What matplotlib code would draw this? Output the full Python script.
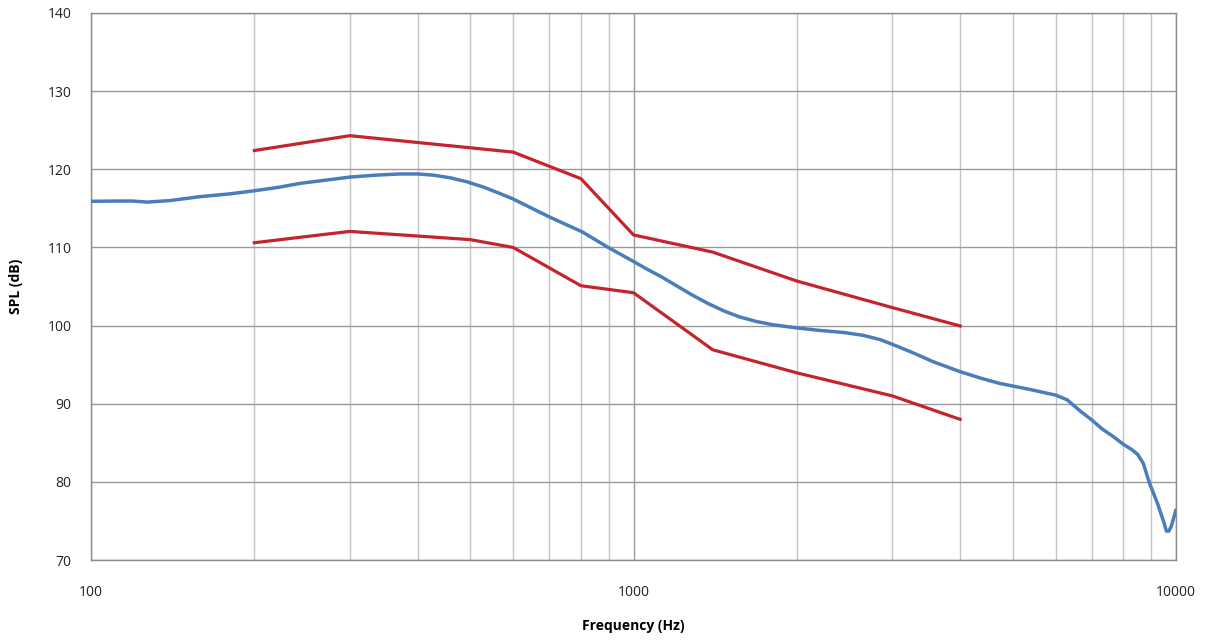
import numpy as np
import matplotlib.pyplot as plt
from matplotlib.ticker import FixedLocator, NullFormatter

plt.rcParams['font.family'] = ['Open Sans', 'DejaVu Sans']

# --- measured response (blue) ---
freq_blue = [100, 110, 119, 127, 140, 159, 180, 200, 222, 243, 270, 300, 335,
             371, 400, 428, 460, 493, 530, 567, 600, 650, 700, 750, 804, 898,
             1000, 1060, 1122, 1180, 1280, 1370, 1470, 1570, 1690, 1810, 2000,
             2190, 2450, 2650, 2850, 3000, 3280, 3560, 4000, 4350, 4730, 5400,
             6000, 6300, 6650, 7000, 7300, 7660, 8000, 8300, 8500, 8700, 8940,
             9250, 9500, 9600, 9700, 9800, 10000]
spl_blue = [115.9, 115.93, 115.94, 115.8, 116.0, 116.5, 116.85, 117.25, 117.7,
            118.2, 118.6, 119.0, 119.25, 119.4, 119.4, 119.25, 118.9, 118.4,
            117.7, 116.9, 116.2, 115.0, 113.9, 112.95, 112.0, 110.0, 108.2, 107.2,
            106.3, 105.4, 103.95, 102.85, 101.85, 101.1, 100.5, 100.1, 99.7, 99.4,
            99.1, 98.75, 98.2, 97.6, 96.5, 95.4, 94.1, 93.3, 92.6, 91.8, 91.1,
            90.5, 89.1, 87.9, 86.8, 85.8, 84.8, 84.1, 83.5, 82.4, 79.8, 77.2,
            74.8, 73.7, 73.7, 74.3, 76.4]

# --- tolerance limits (red) ---
freq_upper = [200, 300, 600, 800, 1000, 1400, 2000, 3000, 4000]
spl_upper = [122.4, 124.3, 122.2, 118.8, 111.6, 109.4, 105.7, 102.3, 99.95]

freq_lower = [200, 300, 500, 600, 800, 1000, 1400, 2000, 3000, 4000]
spl_lower = [110.6, 112.05, 111.0, 110.0, 105.1, 104.2, 96.9, 93.95, 91.0, 88.0]

fig = plt.figure(figsize=(12.05, 6.4), dpi=100)
ax = fig.add_axes([91 / 1205, 1 - 560 / 640, (1176 - 91) / 1205, (560 - 13) / 640])

ax.set_xscale('log')
ax.set_xlim(100, 10000)
ax.set_ylim(70, 140)

# grid
ax.xaxis.set_major_locator(FixedLocator([100, 1000, 10000]))
ax.xaxis.set_minor_locator(FixedLocator([k * 10 ** e for e in (2, 3) for k in range(2, 10)]))
ax.xaxis.set_minor_formatter(NullFormatter())
ax.set_yticks(np.arange(70, 141, 10))
ax.set_xticklabels(['100', '1000', '10000'])
ax.grid(True, which='major', axis='y', color='#9a9a9a', lw=1.0)
ax.grid(True, which='major', axis='x', color='#9a9a9a', lw=1.0)
ax.grid(True, which='minor', axis='x', color='#c4c4c4', lw=1.0)
ax.set_axisbelow(True)

for s in ax.spines.values():
    s.set_color('#8c8c8c')
    s.set_linewidth(1.0)

ax.tick_params(axis='both', which='both', length=0, labelsize=10, colors='#222222')
ax.tick_params(axis='y', pad=14)
ax.tick_params(axis='x', pad=18)

ax.plot(freq_blue, spl_blue, color='#4a7ebb', lw=2.5, solid_joinstyle='round',
        solid_capstyle='round', zorder=3)
ax.plot(freq_upper, spl_upper, color='#c3252d', lw=2.3, zorder=3)
ax.plot(freq_lower, spl_lower, color='#c3252d', lw=2.3, zorder=3)

ax.set_xlabel('Frequency (Hz)', fontsize=10, weight='bold', labelpad=14)
ax.set_ylabel('SPL (dB)', fontsize=10, weight='bold', labelpad=18)

plt.savefig('out.png', dpi=100)
